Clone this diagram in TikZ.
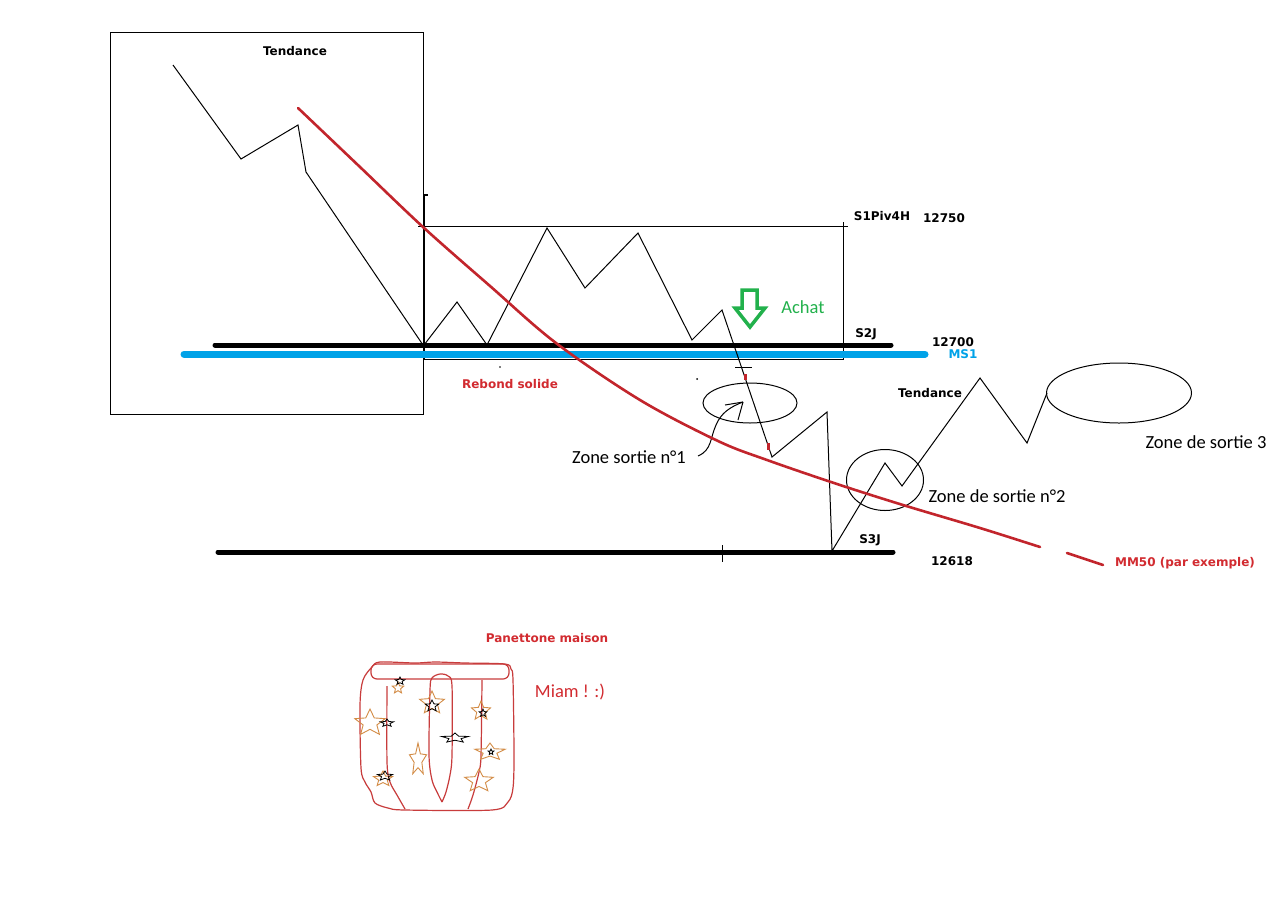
\documentclass[tikz,border=0pt]{standalone}
\usepackage{fontspec}
\usetikzlibrary{shapes.geometric}
\newfontfamily\lblfont{DejaVu Sans}
\newfontfamily\hfont{Carlito}
\definecolor{paintblue}{HTML}{00A2E8}
\definecolor{mmred}{HTML}{C2252C}
\definecolor{txtred}{HTML}{D22B30}
\definecolor{pgreen}{HTML}{22B14C}
\definecolor{panred}{HTML}{C83C3C}
\definecolor{orng}{HTML}{D38C46}
\tikzset{
  thin1/.style={line width=1pt, black},
  boldlbl/.style={font=\lblfont\bfseries\fontsize{12}{14}\selectfont, inner sep=0pt, anchor=base},
  reglbl/.style={font=\hfont\fontsize{18.5}{22}\selectfont, inner sep=0pt, anchor=base},
  levelline/.style={line width=5pt, black, line cap=round},
  msline/.style={line width=7pt, paintblue, line cap=round},
  mmline/.style={line width=2.6pt, mmred, line cap=round},
  zone/.style={ellipse, draw, line width=1pt, inner sep=0pt},
  panline/.style={line width=1.2pt, panred},
  pstar/.pic={\draw[pic actions] (90:1pt)--(126:0.45pt)--(162:1pt)--(198:0.45pt)--(234:1pt)--(270:0.45pt)--(306:1pt)--(342:0.45pt)--(18:1pt)--(54:0.45pt)--cycle;}
}
\newcommand\PanOStar[4]{\pic[draw=orng,line width=0.9pt,xscale=#3,yscale=#4] at (#1,#2) {pstar};}
\newcommand\PanKStar[4]{\pic[draw=black,line width=0.8pt,xscale=#3,yscale=#4] at (#1,#2) {pstar};}
\begin{document}
\begin{tikzpicture}[x=1pt,y=-1pt]
\fill[white] (0,0) rectangle (1282,903);
\useasboundingbox (0,0) rectangle (1282,903);

% left box (trend)
\draw[thin1] (110,32) rectangle (423,414);
\node[boldlbl] (tend1) at (295,55) {Tendance};
\draw[thin1] (173,65) -- (241,159) -- (298,125) -- (306,172) -- (423,345);

% range box
\draw[line width=2pt] (424,195) -- (424,360);
\draw[line width=1.5pt] (424,195) -- (428,195);
\draw[thin1] (418,226) -- (848,226);
\draw[thin1] (843,222) -- (843,359) -- (424,359);

% levels
\draw[levelline] (215,345) -- (891,345);
\draw[msline] (184,354) -- (925,354);
\draw[levelline] (218,552) -- (893,552);
\draw[line width=1pt] (722,545) -- (722,562);

% price path
\draw[thin1, line join=miter] (424,345) -- (457,302) -- (487,345) -- (547,228) -- (585,288) -- (638,233) -- (692,340) -- (722,310) -- (772,457) -- (827,412) -- (832,551) -- (885,463) -- (902,486) -- (980,378) -- (1027,443) -- (1047,393);

% small marks
\draw[line width=1pt] (735,367) -- (752,367);
\fill[mmred] (743.5,374) rectangle (747,380);
\fill[mmred] (766.5,443) rectangle (770,450);
\fill (697,379) circle (1pt);
\fill (500,367) circle (0.9pt);

% zones
\node[zone, minimum width=94pt, minimum height=40pt] (z1) at (750,403) {};
\node[zone, minimum width=77pt, minimum height=61pt] (z2) at (885,480) {};
\node[zone, minimum width=145pt, minimum height=60pt] (z3) at (1119,393) {};

% curvy arrow to zone 1
\coordinate (c1s) at (698,456);
\coordinate (c1t) at (743,402);
\draw[thin1] (c1s) .. controls (712,450) and (710,438) .. (716,425) .. controls (721,413) and (730,407) .. (c1t);
\draw[thin1] (c1t) -- (725,405);
\draw[thin1] (c1t) -- (738,420);

% MM50
\draw[mmline] plot[smooth, tension=0.55] coordinates {(298,108) (360,167) (423,227) (490,286) (556,343) (640,400) (718,441) (767,460) (837,484) (903,505) (980,528) (1040,547)};
\draw[mmline] (1067,553) -- (1103,565);

% buy arrow
\draw[pgreen, line width=3.5pt, line join=miter] (742,290) -- (757,290) -- (757,308) -- (765,308) -- (750,327) -- (735,308) -- (742,308) -- cycle;

% labels
\node[boldlbl] (s1) at (882,220) {S1Piv4H};
\node[boldlbl] (p12750) at (944,222) {12750};
\node[boldlbl] (s2j) at (866,337) {S2J};
\node[boldlbl] (p12700) at (953,346) {12700};
\node[boldlbl, text=paintblue] (ms1) at (963,358) {MS1};
\node[reglbl, text=pgreen] (achat) at (803,313) {Achat};
\node[boldlbl, text=txtred] (rebond) at (510,388) {Rebond solide};
\node[boldlbl] (tend2) at (930,397) {Tendance};
\node[reglbl] (zs1) at (629,463) {Zone sortie n°1};
\node[reglbl] (zs2) at (997,502) {Zone de sortie n°2};
\node[reglbl] (zs3) at (1206,448) {Zone de sortie 3};
\node[boldlbl] (s3j) at (870,543) {S3J};
\node[boldlbl] (p12618) at (952,565) {12618};
\node[boldlbl, text=txtred] (mm50) at (1185,566) {MM50 (par exemple)};
\node[boldlbl, text=txtred] (pan) at (547,642) {Panettone maison};
\node[reglbl, text=txtred] (miam) at (570,697) {Miam ! :)};

% panettone
\draw[panline] plot[smooth cycle, tension=0.5] coordinates {(372,667) (380,662) (415,663) (435,662) (465,663) (505,664) (511,669) (513,680) (514,755) (513,788) (508,802) (492,810) (405,810) (388,808) (375,803) (371,792) (365,782) (361,768) (360,705) (363,680)};
\draw[panline, rounded corners=6pt] (371,664) rectangle (509,679);
\draw[panline] plot[smooth, tension=0.5] coordinates {(387,686) (387,762) (390,782) (397,795) (405,809)};
\draw[panline] plot[smooth, tension=0.5] coordinates {(442,802) (437,792) (432,780) (429,755) (430,690) (432,678) (440,674) (448,676) (452,686) (452,755) (450,775) (446,792) (442,802)};
\draw[panline] plot[smooth, tension=0.5] coordinates {(482,680) (481,755) (479,772) (473,795) (468,809)};

\PanOStar{398}{688}{6}{6}
\PanOStar{432}{703}{13}{12}
\PanOStar{370}{723}{16}{14}
\PanOStar{481}{711}{10}{10}
\PanOStar{418}{760}{9}{17}
\PanOStar{490}{752}{16}{9}
\PanOStar{479}{781}{15}{12}
\PanOStar{383}{779}{10}{8}
\PanKStar{400}{681}{5}{4}
\PanKStar{387}{723}{7}{4}
\PanKStar{432}{706}{7}{6}
\PanKStar{455}{738}{14}{5}
\PanKStar{483}{713}{4}{4}
\PanKStar{491}{752}{3}{3}
\PanKStar{385}{776}{8}{5}
\end{tikzpicture}
\end{document}
